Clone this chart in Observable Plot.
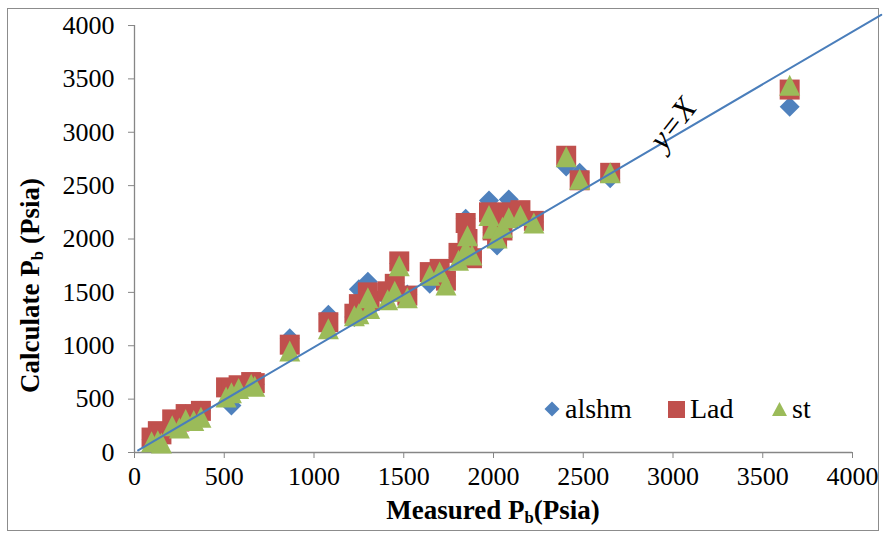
<!DOCTYPE html>
<html><head><meta charset="utf-8">
<script src="https://cdn.jsdelivr.net/npm/d3@7"></script>
<script src="https://cdn.jsdelivr.net/npm/@observablehq/plot@0.6"></script>
<style>
body{margin:0;background:#fff;}
#wrap{position:relative;width:883px;height:535px;font-family:"Liberation Serif","Times New Roman",serif;color:#000;overflow:hidden;}
#frame{position:absolute;left:7px;top:8px;width:872px;height:523px;border:1px solid #8c8c8c;box-sizing:border-box;}
#chart{position:absolute;left:0;top:0;}
.lab{position:absolute;font-weight:bold;font-size:27px;line-height:27px;white-space:nowrap;text-align:center;}
.lab sub{font-size:0.62em;vertical-align:-0.25em;line-height:0;}
.leg{position:absolute;top:395px;font-size:28px;line-height:28px;white-space:nowrap;display:flex;align-items:center;}
.leg svg{margin-right:5px;}
</style></head>
<body>
<div id="wrap">
  <div id="frame"></div>
  <div id="chart"></div>
  <div class="lab" style="left:293px;top:497px;width:400px;">Measured P<sub>b</sub>(Psia)</div>
  <div class="lab" style="left:-120px;top:272px;width:300px;height:27px;transform:rotate(-90deg);">Calculate P<sub>b</sub> (Psia)</div>
  <div id="legend"></div>
</div>
<script>
// Measured bubble-point pressure (psia)
const measured = [95,130,150,210,250,285,330,370,510,540,580,650,670,865,1080,1225,1250,1300,1310,1410,1450,1475,1520,1645,1700,1735,1805,1845,1855,1880,1975,1995,2020,2050,2085,2150,2225,2405,2480,2650,3650];
// Calculated values by correlation
const alshm = [120,160,190,270,300,360,330,390,560,440,620,650,640,1070,1290,1270,1530,1600,1450,1440,1590,1770,1480,1580,1700,1650,1830,2190,1950,1830,2360,2060,1940,2100,2370,2230,2160,2680,2620,2570,3240];
const lad   = [140,200,170,310,290,360,340,390,610,600,630,660,650,1010,1220,1300,1390,1500,1420,1510,1580,1790,1470,1690,1720,1610,1870,2150,2000,1820,2250,2080,2010,2080,2250,2270,2170,2780,2550,2620,3400];
const st    = [100,110,90,250,230,310,300,330,520,560,600,640,620,950,1160,1280,1300,1450,1350,1430,1510,1750,1450,1660,1690,1570,1800,1900,2030,1850,2220,2100,2010,2110,2200,2220,2150,2770,2560,2620,3440];
const seriesNames = ["alshm","Lad","st"];
const seriesColors = ["#4F81BD","#C0504D","#9BBB59"];
const xTicks = [0,500,1000,1500,2000,2500,3000,3500,4000];
const yTicks = [0,500,1000,1500,2000,2500,3000,3500,4000];
// reference line y = x
const lineX = [20,4160];
const lineY = [20,4100];
const lineLabel = ["y=X"];
const lineLabelX = [3000];
const lineLabelY = [3080];

const rad = s => Math.sqrt(s/Math.PI);
const diamondSym = {draw(c,s){const r=rad(s);c.moveTo(0,-r);c.lineTo(r,0);c.lineTo(0,r);c.lineTo(-r,0);c.closePath();}};
const squareSym  = {draw(c,s){const r=rad(s);c.rect(-r,-r,2*r,2*r);}};
const triSym     = {draw(c,s){const r=rad(s);c.moveTo(0,-r);c.lineTo(r,r);c.lineTo(-r,r);c.closePath();}};
const symbols = [diamondSym, squareSym, triSym];
const sizes = [10,10,10.5];

const valueSets = [alshm, lad, st];
const dotMarks = valueSets.map((vals,k) =>
  Plot.dot(measured.map((m,i)=>({x:m,y:vals[i]})),
    {x:"x",y:"y",r:sizes[k],symbol:symbols[k],fill:seriesColors[k],stroke:"none"}));

const lineData = lineX.map((x,i)=>({x,y:lineY[i]}));
const gray = "#868686";

const chart = Plot.plot({
  width:883, height:535,
  marginLeft:134, marginRight:31, marginTop:25, marginBottom:83,
  x:{domain:[0,4000]}, y:{domain:[0,4000]},
  style:{fontFamily:"'Liberation Serif','Times New Roman',serif", background:"transparent", overflow:"visible", color:"#000"},
  marks:[
    Plot.axisX({ticks:xTicks, tickSize:6, tickPadding:8, stroke:gray, fill:"#000", fontSize:26, label:null, tickFormat:d=>String(d)}),
    Plot.axisY({ticks:yTicks, tickSize:6, tickPadding:14, stroke:gray, fill:"#000", fontSize:26, label:null, tickFormat:d=>String(d)}),
    Plot.ruleY([0],{stroke:gray, strokeWidth:1.3}),
    Plot.ruleX([0],{stroke:gray, strokeWidth:1.3}),
    ...dotMarks,
    Plot.line(lineData,{x:"x",y:"y",stroke:"#4A7EBB",strokeWidth:2}),
    Plot.text(lineLabel.map((t,i)=>({t,x:lineLabelX[i],y:lineLabelY[i]})),
      {x:"x",y:"y",text:"t",rotate:-52,fontSize:32,fontStyle:"italic",fill:"#000"})
  ]
});
document.getElementById("chart").appendChild(chart);

// legend
const legendLeft = [544,668,772];
const legendSvgs = [
  '<svg width="16" height="16" viewBox="-8 -8 16 16"><path d="M0,-7.5L7.5,0L0,7.5L-7.5,0Z" fill="'+seriesColors[0]+'"/></svg>',
  '<svg width="17" height="17" viewBox="-8.5 -8.5 17 17"><rect x="-8.5" y="-8.5" width="17" height="17" fill="'+seriesColors[1]+'"/></svg>',
  '<svg width="15" height="14" viewBox="-7.5 -7 15 14"><path d="M0,-7L7.5,7L-7.5,7Z" fill="'+seriesColors[2]+'"/></svg>'
];
const leg = document.getElementById("legend");
seriesNames.forEach((n,i)=>{
  const d=document.createElement("div");
  d.className="leg"; d.style.left=legendLeft[i]+"px";
  d.innerHTML=legendSvgs[i]+"<span>"+n+"</span>";
  leg.appendChild(d);
});
</script>
</body></html>
